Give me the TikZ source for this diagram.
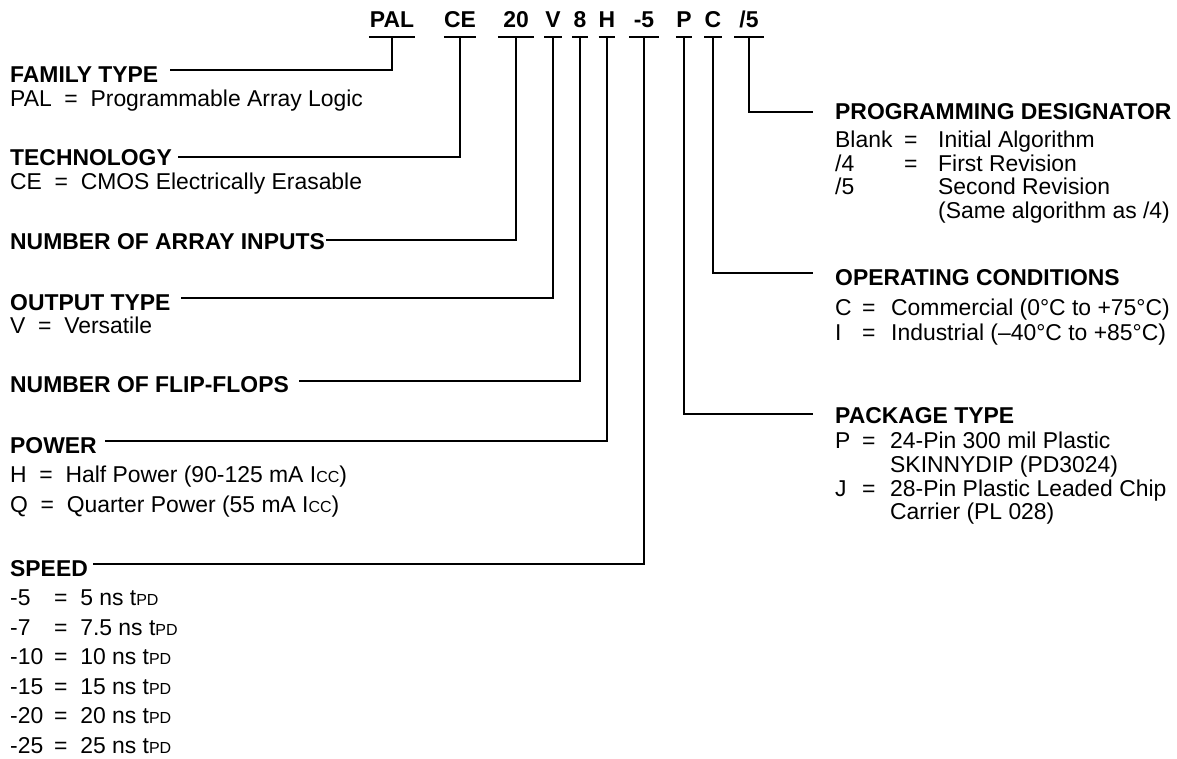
\documentclass[tikz,border=0pt]{standalone}
\usepackage{fontspec}
\setmainfont{Liberation Sans}
\newcommand{\lowidx}[1]{{\fontsize{16}{16}\selectfont #1}}
\newcommand{\diagsize}{\fontsize{22.9}{27}\selectfont}
\tikzstyle{codeText}=[font=\diagsize\bfseries, inner sep=0pt, anchor=base, text height=16pt, text depth=9pt]
\tikzstyle{titleText}=[font=\diagsize\bfseries, inner sep=0pt, anchor=base west]
\tikzstyle{bodyText}=[font=\diagsize, inner sep=0pt, anchor=base west]
\tikzstyle{leader}=[line width=1.6pt]

\begin{document}
\begin{tikzpicture}[x=1pt, y=-1pt]
\useasboundingbox (0,0) rectangle (1177,759);
% part number
\node[codeText, minimum width=46] (pal) at (392,28) {PAL};
\node[codeText, minimum width=30] (ce) at (460,28) {CE};
\node[codeText, minimum width=36] (arr) at (516,28) {20};
\node[codeText, minimum width=17] (ver) at (553,28) {V};
\node[codeText, minimum width=16] (ff) at (580,28) {8};
\node[codeText, minimum width=16] (pw) at (607,28) {H};
\node[codeText, minimum width=30] (spd) at (644,28) {-5};
\node[codeText, minimum width=16] (pkg) at (684,28) {P};
\node[codeText, minimum width=17] (opc) at (713,28) {C};
\node[codeText, minimum width=29] (prg) at (749,28) {/5};
% left column
\node[titleText] (famT) at (10,83) {FAMILY TYPE};
\node[bodyText] (famV) at (10,107) {PAL~~=~~Programmable Array Logic};
\node[titleText] (techT) at (10,166) {TECHNOLOGY};
\node[bodyText] (techV) at (10,190) {CE~~=~~CMOS Electrically Erasable};
\node[titleText] (arrT) at (10,250) {NUMBER OF ARRAY INPUTS};
\node[titleText] (outT) at (10,310) {OUTPUT TYPE};
\node[bodyText] (outV) at (10,333) {V~~=~~Versatile};
\node[titleText] (ffT) at (10,392) {NUMBER OF FLIP-FLOPS};
\node[titleText] (pwT) at (10,453) {POWER};
\node[bodyText] (pwH) at (10,482) {H~~=~~Half Power (90-125 mA I\lowidx{CC})};
\node[bodyText] (pwQ) at (10,512) {Q~~=~~Quarter Power (55 mA I\lowidx{CC})};
\node[titleText] (spdT) at (10,576) {SPEED};
\node[bodyText] (spdK1) at (10,605) {-5};
\node[bodyText] (spdV1) at (54,605) {=~~5 ns t\lowidx{PD}};
\node[bodyText] (spdK2) at (10,635) {-7};
\node[bodyText] (spdV2) at (54,635) {=~~7.5 ns t\lowidx{PD}};
\node[bodyText] (spdK3) at (10,664) {-10};
\node[bodyText] (spdV3) at (54,664) {=~~10 ns t\lowidx{PD}};
\node[bodyText] (spdK4) at (10,694) {-15};
\node[bodyText] (spdV4) at (54,694) {=~~15 ns t\lowidx{PD}};
\node[bodyText] (spdK5) at (10,723) {-20};
\node[bodyText] (spdV5) at (54,723) {=~~20 ns t\lowidx{PD}};
\node[bodyText] (spdK6) at (10,753) {-25};
\node[bodyText] (spdV6) at (54,753) {=~~25 ns t\lowidx{PD}};
% right column
\node[titleText] (prgT) at (835,120) {PROGRAMMING DESIGNATOR};
\node[bodyText] (prgK1) at (835,148) {Blank};
\node[bodyText] (prgE1) at (904,148) {=};
\node[bodyText] (prgV1) at (938,148) {Initial Algorithm};
\node[bodyText] (prgK2) at (835,172) {/4};
\node[bodyText] (prgE2) at (904,172) {=};
\node[bodyText] (prgV2) at (938,172) {First Revision};
\node[bodyText] (prgK3) at (835,195) {/5};
\node[bodyText] (prgV3) at (938,195) {Second Revision};
\node[bodyText] (prgV4) at (938,219) {(Same algorithm as /4)};
\node[titleText] (opcT) at (835,285) {OPERATING CONDITIONS};
\node[bodyText] (opcK1) at (835,315) {C};
\node[bodyText] (opcE1) at (862,315) {=};
\node[bodyText] (opcV1) at (891,315) {Commercial (0°C to +75°C)};
\node[bodyText] (opcK2) at (835,340) {I};
\node[bodyText] (opcE2) at (862,340) {=};
\node[bodyText] (opcV2) at (891,340) {Industrial (–40°C to +85°C)};
\node[titleText] (pkgT) at (835,423) {PACKAGE TYPE};
\node[bodyText] (pkgK1) at (835,448) {P};
\node[bodyText] (pkgE1) at (862,448) {=};
\node[bodyText] (pkgV1) at (890,448) {24-Pin 300 mil Plastic};
\node[bodyText] (pkgV2) at (890,472) {SKINNYDIP (PD3024)};
\node[bodyText] (pkgK3) at (835,496) {J};
\node[bodyText] (pkgE3) at (862,496) {=};
\node[bodyText] (pkgV3) at (890,496) {28-Pin Plastic Leaded Chip};
\node[bodyText] (pkgV4) at (890,519) {Carrier (PL 028)};
% underlines
\draw[leader] (pal.south west) -- (pal.south east);
\draw[leader] (ce.south west) -- (ce.south east);
\draw[leader] (arr.south west) -- (arr.south east);
\draw[leader] (ver.south west) -- (ver.south east);
\draw[leader] (ff.south west) -- (ff.south east);
\draw[leader] (pw.south west) -- (pw.south east);
\draw[leader] (spd.south west) -- (spd.south east);
\draw[leader] (pkg.south west) -- (pkg.south east);
\draw[leader] (opc.south west) -- (opc.south east);
\draw[leader] (prg.south west) -- (prg.south east);
% leaders
\draw[leader] (pal.south) |- ([xshift=12pt, yshift=13pt]famT.base east);
\draw[leader] (ce.south) |- ([xshift=6pt, yshift=9pt]techT.base east);
\draw[leader] (arr.south) |- ([xshift=1pt, yshift=10pt]arrT.base east);
\draw[leader] (ver.south) |- ([xshift=10pt, yshift=12pt]outT.base east);
\draw[leader] (ff.south) |- ([xshift=10pt, yshift=11pt]ffT.base east);
\draw[leader] (pw.south) |- ([xshift=8pt, yshift=12pt]pwT.base east);
\draw[leader] (spd.south) |- ([xshift=5pt, yshift=12pt]spdT.base east);
\draw[leader] (prg.south) |- ([xshift=-22pt, yshift=8pt]prgT.base west);
\draw[leader] (opc.south) |- ([xshift=-22pt, yshift=12pt]opcT.base west);
\draw[leader] (pkg.south) |- ([xshift=-22pt, yshift=9pt]pkgT.base west);
%
\end{tikzpicture}
\end{document}
